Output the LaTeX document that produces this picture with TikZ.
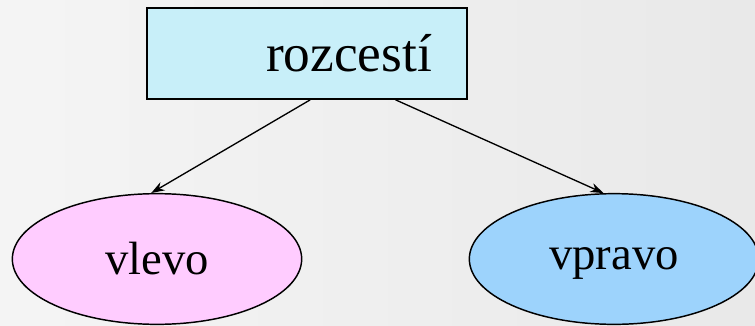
\documentclass[tikz,border=0pt]{standalone}
\usepackage{fontspec}
\setmainfont{Liberation Serif}
\usetikzlibrary{shapes.geometric,calc,arrows.meta}

\definecolor{bgcol}{RGB}{240,240,240}
\definecolor{boxcol}{RGB}{200,239,249}
\definecolor{pinkcol}{RGB}{255,204,255}
\definecolor{bluecol}{RGB}{157,211,252}

\begin{document}
\begin{tikzpicture}[x=0.75pt,y=-0.75pt,
	box/.style={draw,line width=1.5pt,fill=boxcol,minimum width=240pt,minimum height=68pt,inner sep=0pt,font=\fontsize{40}{44}\selectfont},
	oval/.style={ellipse,draw,line width=1.1pt,minimum width=217pt,minimum height=98pt,inner sep=0pt,font=\fontsize{35}{40}\selectfont},
	link/.style={line width=1pt,-{Stealth[length=10pt,width=7pt]}}]
	\path[use as bounding box, left color=bgcol!70!white, right color=bgcol!97!black] (0,0) rectangle (755,325);
	% top box, text sits right of the middle
	\node[box] (rozc) at (307,53.5) {\hspace*{63pt}rozcestí};
	% the two ways
	\node[oval, fill=pinkcol] (vlevo) at (157,259) {vlevo};
	\node[oval, fill=bluecol, text depth=0.12em] (vpravo) at (614,259) {vpravo};
	% arrows
	\draw[link] ($(rozc.south west)!0.51!(rozc.south east)$) -- (vlevo.95);
	\draw[link] ($(rozc.south west)!0.775!(rozc.south east)$) -- (vpravo.99);
\end{tikzpicture}
\end{document}
